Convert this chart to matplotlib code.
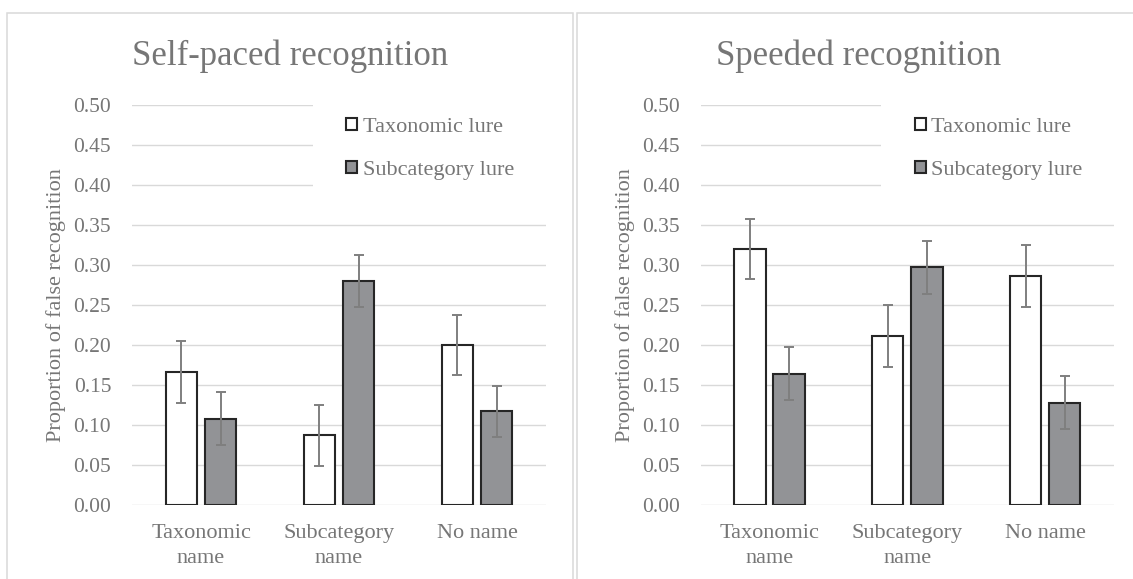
import numpy as np
import matplotlib
matplotlib.use("Agg")
import matplotlib.pyplot as plt
from matplotlib.patches import Rectangle

categories = ['Taxonomic\nname', 'Subcategory\nname', 'No name']
series_names = ['Taxonomic lure', 'Subcategory lure']

self_tax = [0.166, 0.087, 0.200]
self_tax_err = [0.039, 0.038, 0.038]
self_sub = [0.108, 0.280, 0.117]
self_sub_err = [0.033, 0.032, 0.032]

speed_tax = [0.320, 0.211, 0.286]
speed_tax_err = [0.038, 0.039, 0.039]
speed_sub = [0.164, 0.297, 0.128]
speed_sub_err = [0.033, 0.033, 0.033]

yticks = [0.00, 0.05, 0.10, 0.15, 0.20, 0.25, 0.30, 0.35, 0.40, 0.45, 0.50]

TEXT = '#767676'
GRID = '#d9d9d9'
EDGE = '#262626'
GREY = '#929396'
ERR = '#7f7f7f'

plt.rcParams['font.family'] = ['Liberation Serif', 'DejaVu Serif']

fig = plt.figure(figsize=(11.33, 5.79), dpi=100)

# panel borders
W, H = 1133, 579
fig.add_artist(Rectangle((7 / W, -0.1), (572.5 - 7) / W, (H - 13) / H + 0.1,
                         transform=fig.transFigure, fill=False,
                         edgecolor=GRID, lw=1.1))
fig.add_artist(Rectangle((576.5 / W, -0.1), 0.6, (H - 13) / H + 0.1,
                         transform=fig.transFigure, fill=False,
                         edgecolor=GRID, lw=1.1))


def panel(rect, title, title_x, tax, tax_err, sub, sub_err):
    ax = fig.add_axes(rect)
    x = np.arange(len(categories))
    w = 0.228
    off = 0.142
    err_kw = dict(ecolor=ERR, elinewidth=1.4, capsize=3.5, capthick=1.4)
    ax.bar(x - off, tax, w, yerr=tax_err, color='white', edgecolor=EDGE,
           linewidth=1.5, label=series_names[0], error_kw=err_kw, zorder=2)
    ax.bar(x + off, sub, w, yerr=sub_err, color=GREY, edgecolor=EDGE,
           linewidth=1.5, label=series_names[1], error_kw=err_kw, zorder=2)
    ax.set_xlim(-0.5, 2.5)
    ax.set_ylim(0, 0.5)
    ax.set_yticks(yticks)
    ax.set_yticklabels(['%.2f' % t for t in yticks])
    ax.set_xticks(x)
    ax.set_xticklabels(categories, linespacing=1.4)
    ax.set_axisbelow(True)
    ax.grid(axis='y', color=GRID, lw=1.0, zorder=0)
    for s in ax.spines.values():
        s.set_visible(False)
    ax.tick_params(axis='y', length=0, pad=15, labelsize=15.5, labelcolor=TEXT)
    ax.tick_params(axis='x', length=0, pad=14, labelsize=16, labelcolor=TEXT)
    ax.set_ylabel('Proportion of false recognition', fontsize=16, color=TEXT,
                  va='center')
    ax.yaxis.set_label_coords(-0.183, 0.5)
    leg = ax.legend(loc='upper left', bbox_to_anchor=(0.437, 1.052),
                    borderaxespad=0, borderpad=1.5, fontsize=16,
                    labelcolor=TEXT, handlelength=0.5, handleheight=0.5,
                    handletextpad=0.25, labelspacing=1.08,
                    frameon=True, facecolor='white', edgecolor='none',
                    framealpha=1, fancybox=False)
    leg.set_zorder(5)
    fig.text(title_x, 1 - 65 / H, title, ha='center', va='baseline',
             fontsize=25, color=TEXT)
    return ax


panel([132 / W, 74 / H, 414 / W, 400 / H], 'Self-paced recognition', 290 / W,
      self_tax, self_tax_err, self_sub, self_sub_err)
panel([700.7 / W, 74 / H, 413.3 / W, 400 / H], 'Speeded recognition', 859 / W,
      speed_tax, speed_tax_err, speed_sub, speed_sub_err)

fig.savefig('out.png', dpi=100)
